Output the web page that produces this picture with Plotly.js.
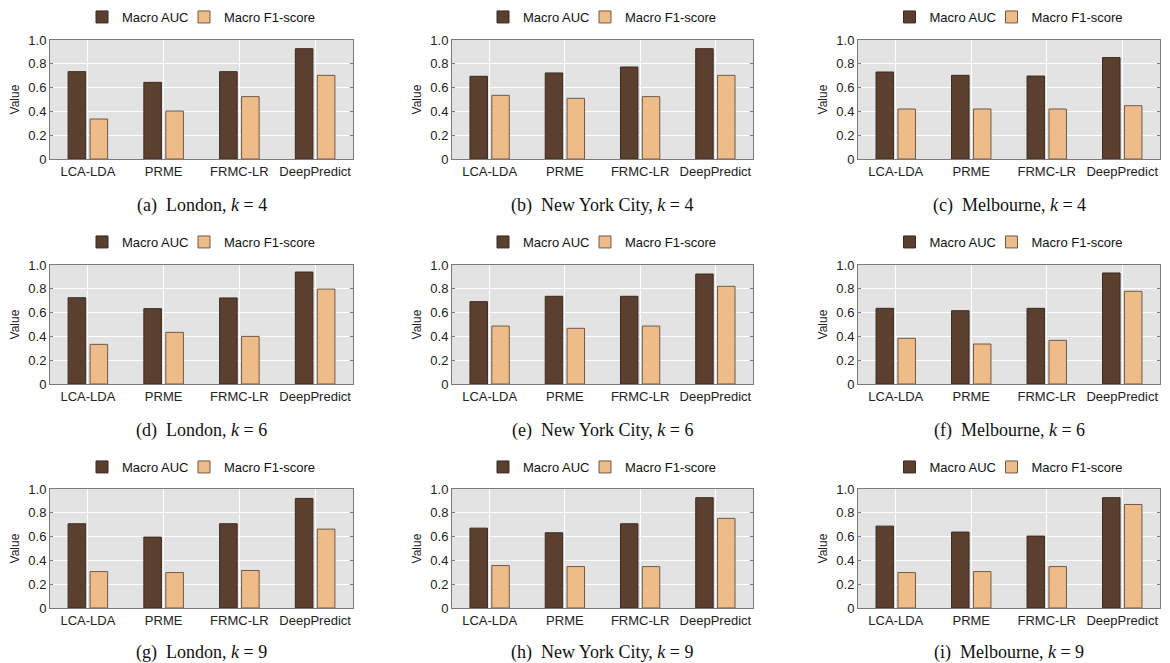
<!DOCTYPE html>
<html>
<head>
<meta charset="utf-8">
<script src="https://cdn.plot.ly/plotly-3.0.1.min.js"></script>
<style>html,body{margin:0;padding:0;background:#fff;}#chart{width:1170px;height:663px;}</style>
</head>
<body>
<div id="chart"></div>
<script>
const categories = ['LCA-LDA', 'PRME', 'FRMC-LR', 'DeepPredict'];
const seriesNames = ['Macro AUC', 'Macro F1-score'];
const yTickVals = [0, 0.2, 0.4, 0.6, 0.8, 1.0];
const yTickText = ['0', '0.2', '0.4', '0.6', '0.8', '1.0'];

// (a) London k=4
const aucA = [0.734, 0.644, 0.734, 0.927];
const f1A  = [0.336, 0.403, 0.524, 0.703];
// (b) New York City k=4
const aucB = [0.695, 0.723, 0.773, 0.927];
const f1B  = [0.535, 0.510, 0.524, 0.703];
// (c) Melbourne k=4
const aucC = [0.731, 0.703, 0.697, 0.852];
const f1C  = [0.420, 0.420, 0.420, 0.448];
// (d) London k=6
const aucD = [0.725, 0.633, 0.723, 0.941];
const f1D  = [0.333, 0.434, 0.400, 0.798];
// (e) New York City k=6
const aucE = [0.692, 0.737, 0.737, 0.924];
const f1E  = [0.487, 0.468, 0.487, 0.821];
// (f) Melbourne k=6
const aucF = [0.636, 0.616, 0.636, 0.933];
const f1F  = [0.384, 0.336, 0.367, 0.779];
// (g) London k=9
const aucG = [0.708, 0.596, 0.708, 0.921];
const f1G  = [0.306, 0.298, 0.315, 0.663];
// (h) New York City k=9
const aucH = [0.671, 0.632, 0.708, 0.927];
const f1H  = [0.357, 0.348, 0.348, 0.753];
// (i) Melbourne k=9
const aucI = [0.688, 0.638, 0.604, 0.927];
const f1I  = [0.298, 0.306, 0.348, 0.870];

const captions = [
  '(a)&#160; London, <i>k</i>&#8197;=&#8197;4', '(b)&#160; New York City, <i>k</i>&#8197;=&#8197;4', '(c)&#160; Melbourne, <i>k</i>&#8197;=&#8197;4',
  '(d)&#160; London, <i>k</i>&#8197;=&#8197;6', '(e)&#160; New York City, <i>k</i>&#8197;=&#8197;6', '(f)&#160; Melbourne, <i>k</i>&#8197;=&#8197;6',
  '(g)&#160; London, <i>k</i>&#8197;=&#8197;9', '(h)&#160; New York City, <i>k</i>&#8197;=&#8197;9', '(i)&#160; Melbourne, <i>k</i>&#8197;=&#8197;9'
];

const panels = [
  [aucA, f1A], [aucB, f1B], [aucC, f1C],
  [aucD, f1D], [aucE, f1E], [aucF, f1F],
  [aucG, f1G], [aucH, f1H], [aucI, f1I]
];

const W = 1170, H = 663;
const colPx = [[50, 353], [452, 753], [858, 1160]];
const rowPx = [[40, 159], [265, 384], [489, 608]];
const legendPx = [17, 242, 467];
const captionPx = [205, 430, 652];
const colors = ['#5b3f2f', '#eebc88'];
const lineColors = ['#3b2a20', '#6f5a48'];

const traces = [];
const layout = {
  width: W, height: H,
  margin: {l: 0, r: 0, t: 0, b: 0},
  paper_bgcolor: '#ffffff',
  plot_bgcolor: '#e3e3e3',
  barmode: 'group',
  bargap: 0.42,
  bargroupgap: 0.2,
  font: {family: 'Liberation Sans, Arial, sans-serif', size: 13, color: '#222'},
  annotations: [],
  showlegend: true
};

panels.forEach((p, i) => {
  const r = Math.floor(i / 3), c = i % 3;
  const sfx = i === 0 ? '' : String(i + 1);
  const xa = 'x' + sfx, ya = 'y' + sfx;
  const legName = 'legend' + sfx;
  p.forEach((vals, s) => {
    const t = {
      type: 'bar', x: categories, y: vals, name: seriesNames[s],
      xaxis: xa, yaxis: ya, legend: legName,
      marker: {color: colors[s], line: {color: lineColors[s], width: 1}},
      hoverinfo: 'x+y+name'
    };
    if (s === 0) t.legendwidth = 57;
    traces.push(t);
  });
  const x0 = colPx[c][0] / W, x1 = colPx[c][1] / W;
  const y0 = 1 - rowPx[r][1] / H, y1 = 1 - rowPx[r][0] / H;
  layout['xaxis' + sfx] = {
    domain: [x0, x1], anchor: ya, type: 'category',
    categoryorder: 'array', categoryarray: categories,
    range: [-0.5, 3.5],
    showgrid: true, gridcolor: '#ffffff', gridwidth: 1,
    showline: true, linecolor: '#7a7a7a', linewidth: 1, mirror: true,
    ticks: '', tickfont: {size: 13, color: '#222'}, fixedrange: true
  };
  layout['yaxis' + sfx] = {
    domain: [y0, y1], anchor: xa, range: [0, 1],
    tickvals: yTickVals, ticktext: yTickText,
    showgrid: true, gridcolor: '#ffffff', gridwidth: 1,
    showline: true, linecolor: '#7a7a7a', linewidth: 1, mirror: 'allticks',
    ticks: 'inside', ticklen: 3, tickcolor: '#7a7a7a',
    tickfont: {size: 13, color: '#222'}, zeroline: false,
    title: {text: 'Value', font: {size: 12, color: '#222'}, standoff: 6},
    fixedrange: true
  };
  layout[legName] = {
    orientation: 'h', x: (x0 + x1) / 2, xanchor: 'center',
    y: 1 - legendPx[r] / H, yanchor: 'middle',
    bgcolor: 'rgba(0,0,0,0)', font: {size: 13, color: '#111'},
    itemwidth: 30, tracegroupgap: 0, itemclick: false, itemdoubleclick: false
  };
  layout.annotations.push({
    xref: 'paper', yref: 'paper', x: (x0 + x1) / 2, y: 1 - captionPx[r] / H,
    xanchor: 'center', yanchor: 'middle', showarrow: false,
    text: captions[i],
    font: {family: 'Liberation Serif, Times New Roman, serif', size: 18, color: '#111'}
  });
});

Plotly.newPlot('chart', traces, layout, {displayModeBar: false, staticPlot: true});
</script>
</body>
</html>
